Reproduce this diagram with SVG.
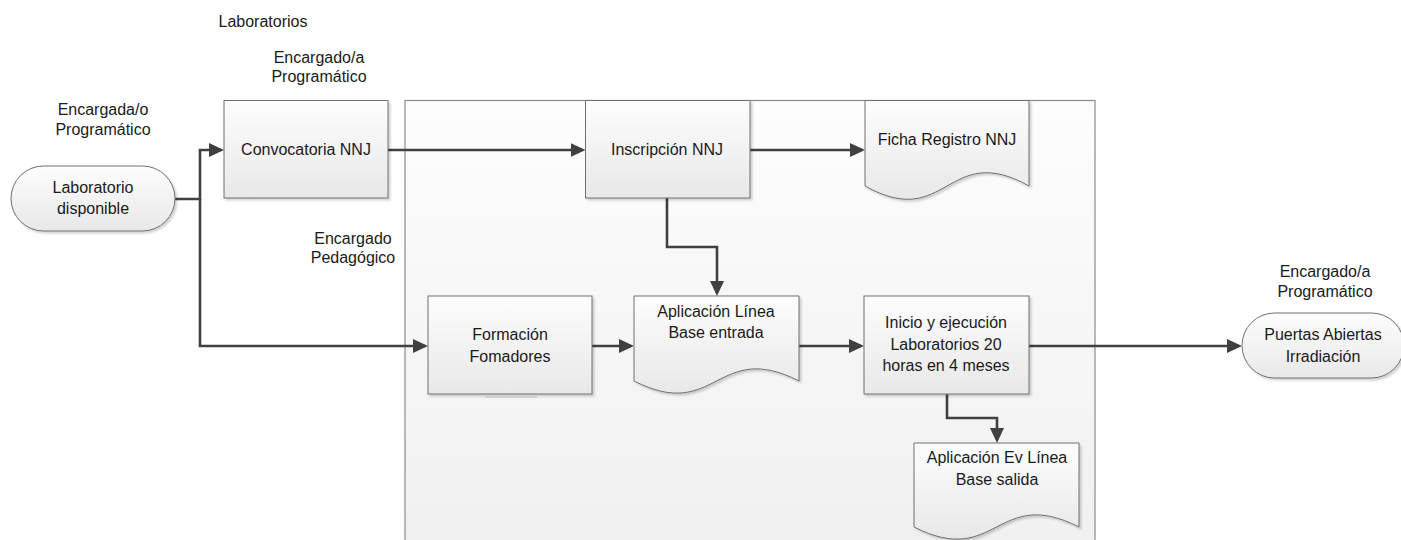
<svg xmlns="http://www.w3.org/2000/svg" width="1401" height="540" viewBox="0 0 1401 540">
<defs>
<linearGradient id="gBox" x1="0" y1="0" x2="0" y2="1">
<stop offset="0" stop-color="#fdfdfd"/>
<stop offset="1" stop-color="#e8e8e8"/>
</linearGradient>
<linearGradient id="gCont" x1="0" y1="0" x2="0" y2="1">
<stop offset="0" stop-color="#fdfdfd"/>
<stop offset="1" stop-color="#f0f0f0"/>
</linearGradient>
<filter id="sh" x="-10%" y="-10%" width="130%" height="130%">
<feDropShadow dx="2" dy="2" stdDeviation="1.2" flood-color="#000" flood-opacity="0.18"/>
</filter>
<marker id="arr" markerUnits="userSpaceOnUse" markerWidth="16" markerHeight="15" refX="12" refY="7" orient="auto">
<path d="M0,0 L15,7 L0,14 z" fill="#404040"/>
</marker>
<style>
.box{fill:url(#gBox);stroke:#6e6e6e;stroke-width:1;filter:url(#sh)}
.cont{fill:url(#gCont);stroke:#8a8a8a;stroke-width:1.2}
.con{fill:none;stroke:#404040;stroke-width:2.6;marker-end:url(#arr)}
.line{fill:none;stroke:#404040;stroke-width:2.6}
text{font-family:"Liberation Sans",Arial,sans-serif;font-size:16px;fill:#1a1a1a;text-anchor:middle}
</style>
</defs>
<rect width="1401" height="540" fill="#ffffff"/>

<g id="container">
<rect class="cont" x="405" y="100.5" width="690" height="460"/>
</g>

<g id="labels">
<text x="263" y="27">Laboratorios</text>
<text x="319" y="63">Encargado/a</text>
<text x="319" y="82">Programático</text>
<text x="103" y="115">Encargada/o</text>
<text x="103" y="135">Programático</text>
<text x="353" y="244">Encargado</text>
<text x="353" y="263">Pedagógico</text>
<text x="1325" y="277">Encargado/a</text>
<text x="1325" y="297">Programático</text>
</g>

<g id="connectors">
<path class="con" d="M175,199 H200 V150 H221"/>
<path class="con" d="M200,199 V346 H425"/>
<path class="con" d="M388,150 H582.5"/>
<path class="con" d="M750,150 H862"/>
<path class="con" d="M667,198 V247 H717 V293"/>
<path class="con" d="M592,346 H631"/>
<path class="con" d="M799,346 H861"/>
<path class="con" d="M947,394 V418 H997 V440"/>
<path class="con" d="M1029,346 H1239"/>
</g>

<g id="laboratorio-disponible">
<rect class="box" x="11" y="166" width="164" height="65" rx="32.5" ry="32.5"/>
<text x="93" y="193">Laboratorio</text>
<text x="93" y="214">disponible</text>
</g>

<g id="convocatoria">
<rect class="box" x="224" y="100.5" width="164" height="97.5"/>
<text x="306" y="155">Convocatoria NNJ</text>
</g>

<g id="inscripcion">
<rect class="box" x="585.5" y="100.5" width="164.5" height="97.5"/>
<text x="667" y="155">Inscripción NNJ</text>
</g>

<g id="ficha-registro">
<path class="box" d="M865,100.5 H1029 V186 C947,140 947,232 865,186 Z"/>
<text x="947" y="145">Ficha Registro NNJ</text>
</g>

<g id="formacion">
<rect class="box" x="428" y="296" width="164" height="98"/>
<line x1="485" y1="397" x2="537" y2="397" stroke="#c8c8c8" stroke-width="1.5"/>
<text x="510" y="340">Formación</text>
<text x="510" y="362">Fomadores</text>
</g>

<g id="aplicacion-entrada">
<path class="box" d="M634,296 H799 V381 C716.5,339 716.5,423 634,381 Z"/>
<text x="716" y="317">Aplicación Línea</text>
<text x="716" y="338">Base entrada</text>
</g>

<g id="inicio-ejecucion">
<rect class="box" x="864" y="296" width="165" height="98"/>
<text x="946" y="328">Inicio y ejecución</text>
<text x="946" y="350">Laboratorios 20</text>
<text x="946" y="371">horas en 4 meses</text>
</g>

<g id="aplicacion-salida">
<path class="box" d="M914,443 H1079 V527 C996.5,485 996.5,569 914,527 Z"/>
<text x="997" y="463">Aplicación Ev Línea</text>
<text x="997" y="485">Base salida</text>
</g>

<g id="puertas-abiertas">
<rect class="box" x="1242" y="313" width="162" height="65" rx="32.5" ry="32.5"/>
<text x="1323" y="340">Puertas Abiertas</text>
<text x="1323" y="362">Irradiación</text>
</g>
</svg>
